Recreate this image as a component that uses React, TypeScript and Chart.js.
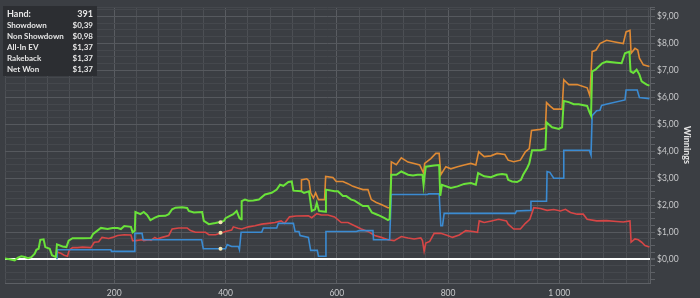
import React, { useEffect, useRef } from "react";
import { Chart, registerables } from "chart.js";

Chart.register(...registerables);

// Net Won (green)
const netWonHands = [3, 12, 21, 27, 33, 39, 45, 51, 57, 60, 64, 67, 73, 76, 84, 88, 95, 97, 107, 114, 118, 125, 143, 158, 162, 176, 188, 197, 206, 212, 218, 230, 233, 237, 238, 247, 253, 259, 265, 273, 280, 292, 298, 304, 310, 322, 331, 334, 343, 358, 361, 370, 382, 392, 397, 400, 407, 414, 420, 425, 428, 429, 435, 441, 450, 460, 471, 483, 492, 498, 504, 513, 519, 522, 536, 541, 550, 555, 561, 564, 568, 580, 580.5, 596, 602, 611, 617, 626, 632, 638, 647, 656, 663, 674, 686, 692, 695, 698, 707, 716, 728, 737, 745, 754, 756, 758, 760, 775, 784, 786, 789, 805, 817, 829, 841, 850, 854, 865, 877, 888, 897, 905, 908, 915, 924, 931, 935, 942, 946, 951, 966, 975, 977, 987, 999, 1005, 1008, 1017, 1026, 1035, 1050, 1054, 1057, 1059, 1065, 1071, 1077, 1085, 1103, 1112, 1118, 1126, 1128, 1133, 1139, 1144, 1148, 1157, 1162];
const netWonValues = [0.03, 0.0, -0.04, 0.06, 0.11, 0.08, 0.04, 0.08, 0.21, 0.35, 0.39, 0.72, 0.74, 0.45, 0.39, 0.15, 0.08, 0.55, 0.47, 0.45, 0.69, 0.78, 0.78, 0.79, 0.94, 1.16, 1.12, 1.16, 1.16, 1.12, 1.23, 1.2, 1.0, 1.06, 1.75, 1.67, 1.75, 1.64, 1.45, 1.54, 1.6, 1.61, 1.67, 1.85, 1.91, 1.93, 1.9, 1.79, 1.73, 1.75, 1.42, 1.3, 1.34, 1.39, 1.42, 1.52, 1.6, 1.67, 1.79, 1.52, 1.48, 2.15, 2.21, 2.17, 2.18, 2.21, 2.4, 2.46, 2.58, 2.76, 2.72, 2.86, 2.88, 2.54, 2.52, 2.46, 2.52, 1.79, 1.85, 2.09, 1.79, 1.76, 2.58, 2.52, 2.52, 2.34, 2.34, 2.21, 2.17, 2.09, 1.97, 1.97, 1.73, 1.64, 1.52, 1.45, 1.49, 3.13, 3.13, 3.25, 3.13, 3.1, 3.13, 3.13, 2.74, 3.13, 3.43, 3.47, 3.49, 2.35, 2.76, 2.64, 2.7, 2.79, 2.82, 2.76, 3.19, 3.07, 3.04, 3.13, 3.16, 3.13, 2.94, 2.88, 2.86, 2.94, 3.13, 3.37, 3.55, 4.04, 4.04, 4.08, 5.07, 4.89, 4.83, 4.89, 5.86, 5.82, 5.74, 5.74, 5.68, 5.46, 5.32, 6.96, 7.02, 7.14, 7.26, 7.32, 7.28, 7.26, 7.63, 7.69, 6.96, 6.9, 7.02, 6.84, 6.59, 6.47, 6.43];

// All-In EV (orange) - where it departs from Net Won
const allInEvHands = [536, 536.5, 546, 550, 553, 558, 562, 567, 578, 580, 593, 599, 611, 620, 629, 638, 647, 656, 662, 671, 680, 692, 696, 698, 707, 716, 728, 739, 749, 756, 758, 769, 778, 784, 787, 796, 805, 817, 829, 841, 850, 855, 865, 877, 888, 902, 908, 918, 930, 939, 946, 950, 966, 975, 977, 983, 990, 1005, 1008, 1017, 1032, 1050, 1055, 1059, 1066, 1073, 1085, 1100, 1115, 1120, 1127, 1129, 1136, 1141, 1144, 1151, 1162];
const allInEvValues = [2.52, 2.94, 2.98, 2.9, 2.46, 2.27, 2.46, 2.21, 2.21, 3.07, 3.03, 2.88, 2.88, 2.8, 2.7, 2.64, 2.58, 2.58, 2.21, 2.1, 2.03, 1.91, 1.91, 3.61, 3.5, 3.76, 3.6, 3.55, 3.49, 3.19, 3.55, 3.73, 3.92, 3.92, 3.13, 3.43, 3.35, 3.43, 3.49, 3.55, 3.49, 3.98, 3.8, 3.83, 3.92, 3.88, 3.67, 3.61, 3.67, 3.98, 4.1, 4.77, 4.81, 4.86, 5.8, 5.68, 5.56, 5.56, 6.65, 6.47, 6.47, 6.35, 6.05, 7.69, 7.75, 7.99, 8.11, 8.05, 7.99, 8.42, 8.48, 7.63, 7.81, 7.75, 7.45, 7.2, 7.14];

// Showdown (blue)
const showdownHands = [97, 97.5, 194, 195, 236, 237, 250, 252, 357, 360, 400, 403, 411, 423, 425, 428, 465, 468, 492, 495, 522, 525, 532, 534, 549, 553, 565, 567, 580, 580.5, 635, 640, 665, 666, 695, 698, 763, 765, 784, 787, 790, 793, 921, 923, 948, 949, 977, 978, 983, 990, 1007, 1008, 1054, 1057, 1059, 1067, 1073, 1076, 1084, 1118, 1120, 1140, 1144, 1162];
const showdownValues = [0.0, 0.35, 0.35, 0.29, 0.29, 0.96, 0.96, 0.72, 0.72, 0.39, 0.39, 0.54, 0.47, 0.47, 0.35, 1.0, 1.0, 1.16, 1.16, 1.33, 1.33, 1.03, 1.03, 0.88, 0.81, 0.33, 0.33, 0.11, 0.11, 1.03, 1.03, 1.06, 1.06, 0.72, 0.72, 2.4, 2.4, 2.42, 2.42, 1.24, 1.24, 1.7, 1.7, 1.79, 1.81, 2.15, 2.15, 3.25, 3.22, 3.0, 3.0, 4.04, 4.04, 3.86, 5.32, 5.5, 5.52, 5.7, 5.74, 5.9, 6.27, 6.27, 5.99, 5.95];

// Non Showdown (red)
const nonShowdownHands = [95, 97, 104, 110, 116, 119, 125, 134, 143, 158, 164, 172, 178, 190, 197, 206, 218, 230, 233, 238, 250, 253, 262, 266, 273, 277, 286, 298, 304, 316, 331, 337, 346, 364, 370, 382, 392, 400, 411, 414, 422, 429, 441, 453, 465, 477, 489, 500, 506, 515, 527, 549, 555, 564, 572, 584, 596, 608, 620, 632, 644, 656, 668, 680, 692, 703, 716, 728, 739, 751, 754, 757, 760, 767, 775, 787, 799, 808, 820, 832, 845, 853, 856, 865, 878, 891, 905, 908, 918, 930, 939, 947, 954, 966, 978, 990, 1002, 1011, 1020, 1032, 1043, 1050, 1067, 1085, 1103, 1115, 1127, 1129, 1136, 1142, 1148, 1154, 1162];
const nonShowdownValues = [0.08, 0.27, 0.22, 0.15, 0.11, 0.33, 0.43, 0.43, 0.45, 0.43, 0.63, 0.65, 0.81, 0.77, 0.81, 0.88, 0.91, 0.9, 0.69, 0.69, 0.72, 0.69, 0.72, 0.7, 0.81, 0.75, 0.81, 0.88, 1.12, 1.16, 1.16, 1.06, 1.0, 1.0, 0.91, 0.91, 0.97, 1.03, 1.08, 1.2, 1.15, 1.12, 1.2, 1.24, 1.3, 1.33, 1.36, 1.42, 1.33, 1.57, 1.6, 1.61, 1.54, 1.69, 1.64, 1.64, 1.57, 1.36, 1.36, 1.24, 1.12, 1.03, 0.88, 0.81, 0.72, 0.69, 0.84, 0.79, 0.75, 0.79, 0.69, 0.3, 0.6, 0.66, 0.96, 0.96, 0.88, 0.81, 0.9, 1.06, 1.03, 1.0, 1.42, 1.36, 1.42, 1.48, 1.42, 1.3, 1.12, 1.12, 1.33, 1.48, 1.91, 1.88, 1.81, 1.84, 1.79, 1.85, 1.73, 1.67, 1.67, 1.48, 1.42, 1.43, 1.4, 1.38, 1.42, 0.63, 0.75, 0.72, 0.63, 0.51, 0.45];

// Cursor (hand 391) markers
const cursorHand = 391;
const cursorValues = [1.37, 0.98, 0.39];

// Info box
const infoLabels = ["Hand:", "Showdown", "Non Showdown", "All-In EV", "Rakeback", "Net Won"];
const infoValues = ["391", "$0,39", "$0,98", "$1,37", "$1,37", "$1,37"];

// Axis ticks
const xMin = 3.6;
const xMax = 1163;
const xGridStep = 40;
const xLabelStep = 200;
const yMin = -0.88;
const yMax = 9.34;
const yGridQuarters = 4;

const toPoints = (xs: number[], ys: number[]) => xs.map((x, i) => ({ x, y: ys[i] }));

const fmtThousands = (v: number) => String(v).replace(/\B(?=(\d{3})+(?!\d))/g, " ");

const FONT = "Lato, 'Noto Sans', sans-serif";

export default function App() {
  const ref = useRef<HTMLCanvasElement | null>(null);

  useEffect(() => {
    const canvas = ref.current;
    if (!canvas) return;

    const bgPlugin = {
      id: "bg",
      beforeDraw(chart: any) {
        const c = chart.ctx;
        c.save();
        c.fillStyle = "#3b3e43";
        c.fillRect(0, 0, chart.width, chart.height);
        c.restore();
      },
      afterDraw(chart: any) {
        const c = chart.ctx;
        c.save();
        c.fillStyle = "#2c2e32";
        c.fillRect(3, 6, 94, 70);
        c.textBaseline = "middle";
        infoLabels.forEach((lab, i) => {
          const y = 14 + i * 11;
          c.fillStyle = "#e6e6e6";
          c.font = i === 0 ? `bold 9px ${FONT}` : `bold 8px ${FONT}`;
          c.textAlign = "left";
          c.fillText(lab, 7, y);
          c.textAlign = "right";
          c.fillText(infoValues[i], 93, y);
        });
        c.restore();
      },
    };

    const chart = new Chart(canvas, {
      type: "line",
      data: {
        datasets: [
          {
            type: "scatter",
            label: "cursor",
            data: cursorValues.map((v) => ({ x: cursorHand, y: v })),
            pointRadius: 2,
            pointBackgroundColor: "#f2e4b0",
            pointBorderWidth: 0,
            showLine: false,
          } as any,
          {
            label: "Net Won",
            data: toPoints(netWonHands, netWonValues),
            borderColor: "#6ae23a",
            borderWidth: 2,
          },
          {
            label: "Showdown",
            data: toPoints(showdownHands, showdownValues),
            borderColor: "#3b8bd2",
            borderWidth: 1.6,
          },
          {
            label: "Non Showdown",
            data: toPoints(nonShowdownHands, nonShowdownValues),
            borderColor: "#d64646",
            borderWidth: 1.6,
          },
          {
            label: "All-In EV",
            data: toPoints(allInEvHands, allInEvValues),
            borderColor: "#e08a34",
            borderWidth: 1.6,
          },
        ],
      },
      options: {
        animation: false,
        responsive: false,
        maintainAspectRatio: false,
        layout: { padding: { left: 2, top: 3, right: 0, bottom: 0 } },
        elements: {
          point: { radius: 0 },
          line: { tension: 0, fill: false },
        },
        plugins: {
          legend: { display: false },
          tooltip: { enabled: false },
        },
        scales: {
          x: {
            type: "linear",
            min: xMin,
            max: xMax,
            afterBuildTicks: (s: any) => {
              const t: any[] = [{ value: xMin }];
              for (let v = xGridStep; v < xMax; v += xGridStep) t.push({ value: v });
              s.ticks = t;
            },
            afterFit: (s: any) => {
              s.height = 15;
            },
            ticks: {
              autoSkip: false,
              maxRotation: 0,
              padding: 5,
              color: "#c8c9cb",
              font: { family: FONT, size: 8.5 },
              callback: (v: any) => (v % xLabelStep === 0 ? fmtThousands(v) : ""),
            },
            grid: {
              drawTicks: false,
              color: (ctx: any) => {
                const v = ctx.tick ? ctx.tick.value : 0;
                return v % xLabelStep === 0 ? "#595c61" : "#4c4f54";
              },
            },
            border: { display: true, color: "#5d6065" },
          },
          y: {
            type: "linear",
            position: "right",
            min: yMin,
            max: yMax,
            afterBuildTicks: (s: any) => {
              const t: any[] = [];
              for (let q = Math.ceil(yMin * yGridQuarters); q <= Math.floor(yMax * yGridQuarters); q++) {
                t.push({ value: q / yGridQuarters });
              }
              t.push({ value: yMax });
              s.ticks = t;
            },
            afterFit: (s: any) => {
              s.width = 50;
            },
            ticks: {
              autoSkip: false,
              padding: 2,
              color: "#c8c9cb",
              font: { family: FONT, size: 8.5 },
              callback: (v: any) => {
                const r = Math.round(v);
                if (Math.abs(v - r) > 1e-6 || v === yMax) return "";
                return "$" + r + ",00";
              },
            },
            grid: {
              drawTicks: true,
              tickLength: 5,
              tickColor: "#5d6065",
              color: (ctx: any) => {
                const v = ctx.tick ? ctx.tick.value : 1;
                if (Math.abs(v) < 1e-6) return "#ffffff";
                return Math.abs(v - Math.round(v)) < 1e-6 ? "#56595e" : "#45484d";
              },
              lineWidth: (ctx: any) => {
                const v = ctx.tick ? ctx.tick.value : 1;
                return Math.abs(v) < 1e-6 ? 2 : 1;
              },
            },
            border: { display: true, color: "#5d6065" },
            title: {
              display: true,
              text: "Winnings",
              color: "#e6e6e6",
              font: { family: FONT, size: 9, weight: "bold" },
              padding: { top: 8, bottom: 0 },
            },
          },
        },
      } as any,
      plugins: [bgPlugin],
    });

    return () => chart.destroy();
  }, []);

  return (
    <div style={{ position: "absolute", left: 0, top: 0, width: 700, height: 298 }}>
      <canvas ref={ref} width={700} height={298} style={{ display: "block" }} />
    </div>
  );
}
